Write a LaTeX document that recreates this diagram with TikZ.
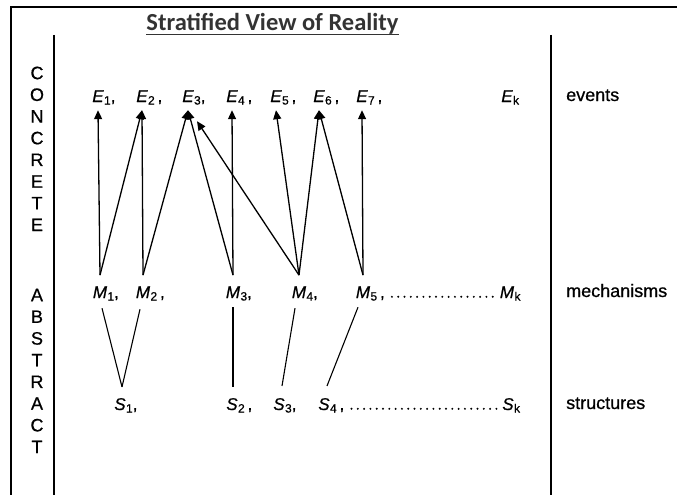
\documentclass[tikz,border=0pt]{standalone}
\usepackage{fontspec}
\setmainfont{Liberation Sans}
\newfontfamily\titlefont{Carlito}
\newfontfamily\lblfont[FakeBold=0.7]{Liberation Sans}
\usetikzlibrary{arrows.meta}
\newcommand\subnum[1]{\raisebox{-2.5pt}{\fontsize{12}{12}\selectfont #1}}
\tikzset{
  lt/.style={font=\lblfont\fontsize{17}{17}\selectfont\itshape, inner sep=0pt, anchor=base},
  lts/.style={font=\lblfont\fontsize{17}{17}\selectfont, inner sep=0pt, anchor=base west},
  side/.style={font=\lblfont\fontsize{18}{18}\selectfont, inner sep=0pt, anchor=base west},
  vlet/.style={font=\lblfont\fontsize{18}{18}\selectfont, inner sep=0pt},
  arr/.style={line width=1.3pt, -{Triangle[length=9pt,width=8pt]}},
  ln/.style={line width=1.1pt},
  dotrow/.style={line width=2.2pt, line cap=round, dash pattern=on 0pt off 6.3pt},
  frameline/.style={line width=2pt},
  divider/.style={line width=1.2pt},
}
\begin{document}
\begin{tikzpicture}[x=1pt,y=-1pt]
\useasboundingbox (0,0) rectangle (677,495);
% frame and dividers
\draw[frameline] (11,495) -- (11,7) -- (677,7);
\draw[divider] (54,35) -- (54,495);
\draw[divider] (551,35) -- (551,495);
% title
\node[font=\titlefont\bfseries\fontsize{24.5}{24.5}\selectfont, text=black!80, inner sep=0pt, anchor=base] (title) at (272.5,31) {Stratified View of Reality};
\draw[line width=1.5pt, black!80] ([yshift=-3.5pt]title.base west) -- ([yshift=-3.5pt]title.base east);
% side letters
\foreach \l [count=\i from 0] in {C,O,N,C,R,E,T,E}
  \node[vlet] (c\i) at (37,{73+21.7*\i}) {\l};
\foreach \l [count=\i from 0] in {A,B,S,T,R,A,C,T}
  \node[vlet] (a\i) at (37,{295+21.7*\i}) {\l};
% events
\node[lt] (e1) at (98,102) {E};  \node[lts] (e1s) at (e1.base east) {\subnum{1},};
\node[lt] (e2) at (142,102) {E}; \node[lts] (e2s) at (e2.base east) {\subnum{2}\,,};
\node[lt] (e3) at (188,102) {E}; \node[lts] (e3s) at (e3.base east) {\subnum{3},};
\node[lt] (e4) at (232,102) {E}; \node[lts] (e4s) at (e4.base east) {\subnum{4}\,,};
\node[lt] (e5) at (276,102) {E}; \node[lts] (e5s) at (e5.base east) {\subnum{5}\,,};
\node[lt] (e6) at (319,102) {E}; \node[lts] (e6s) at (e6.base east) {\subnum{6}\,,};
\node[lt] (e7) at (362,102) {E}; \node[lts] (e7s) at (e7.base east) {\subnum{7}\,,};
\node[lt] (ek) at (507,102) {E}; \node[lts] (eks) at (ek.base east) {\subnum{k}};
% mechanisms
\node[lt] (m1) at (100,298) {M}; \node[lts] (m1s) at (m1.base east) {\subnum{1},};
\node[lt] (m2) at (143,298) {M}; \node[lts] (m2s) at (m2.base east) {\subnum{2}\,,};
\node[lt] (m3) at (233,298) {M}; \node[lts] (m3s) at (m3.base east) {\subnum{3},};
\node[lt] (m4) at (299,298) {M}; \node[lts] (m4s) at (m4.base east) {\subnum{4},};
\node[lt] (m5) at (363,298) {M}; \node[lts] (m5s) at (m5.base east) {\subnum{5}\,,};
\node[lt] (mk) at (507,298) {M}; \node[lts] (mks) at (mk.base east) {\subnum{k}};
% structures
\node[lt] (s1) at (120,410) {S}; \node[lts] (s1s) at (s1.base east) {\subnum{1},};
\node[lt] (s2) at (232,410) {S}; \node[lts] (s2s) at (s2.base east) {\subnum{2}\,,};
\node[lt] (s3) at (279,410) {S}; \node[lts] (s3s) at (s3.base east) {\subnum{3},};
\node[lt] (s4) at (324,410) {S}; \node[lts] (s4s) at (s4.base east) {\subnum{4}\,,};
\node[lt] (sk) at (508,410) {S}; \node[lts] (sks) at (sk.base east) {\subnum{k}};
% dotted runs
\draw[dotrow] ([xshift=7pt,yshift=1.2pt]m5s.base east) -- ([xshift=-3pt,yshift=1.2pt]mk.base west);
\draw[dotrow] ([xshift=7pt,yshift=1.2pt]s4s.base east) -- ([xshift=-3pt,yshift=1.2pt]sk.base west);
% side labels
\node[side] (ev) at (566,101) {events};
\node[side] (me) at (566,297) {mechanisms};
\node[side] (st) at (566,409) {structures};
% arrows mechanisms -> events
\draw[arr] ([yshift=11pt]m1.north) -- ([yshift=-8pt]e1.south);
\draw[arr] ([yshift=11pt]m1.north) -- ([yshift=-8pt]e2.south);
\draw[arr] ([yshift=11pt]m2.north) -- ([yshift=-8pt]e2.south);
\draw[arr] ([yshift=11pt]m2.north) -- ([yshift=-8pt]e3.south);
\draw[arr] ([yshift=11pt]m3.north) -- ([yshift=-8pt]e3.south);
\draw[arr] ([yshift=11pt]m3.north) -- ([yshift=-8pt]e4.south);
\draw[arr] ([yshift=11pt]m4.north) -- ([xshift=9pt,yshift=-19pt]e3.south);
\draw[arr] ([yshift=11pt]m4.north) -- ([yshift=-8pt]e5.south);
\draw[arr] ([yshift=11pt]m4.north) -- ([yshift=-8pt]e6.south);
\draw[arr] ([yshift=11pt]m5.north) -- ([yshift=-8pt]e6.south);
\draw[arr] ([yshift=11pt]m5.north) -- ([yshift=-8pt]e7.south);
% lines mechanisms -- structures
\draw[ln] ([xshift=2pt,yshift=-10pt]m1.south) -- ([xshift=2pt,yshift=11pt]s1.north);
\draw[ln] ([xshift=-3pt,yshift=-11pt]m2.south) -- ([xshift=2pt,yshift=11pt]s1.north);
\draw[ln] ([yshift=-9pt]m3.south) -- ([xshift=1pt,yshift=11pt]s2.north);
\draw[ln] ([xshift=-4pt,yshift=-10pt]m4.south) -- ([xshift=3pt,yshift=12pt]s3.north);
\draw[ln] ([xshift=-5pt,yshift=-9pt]m5.south) -- ([xshift=3pt,yshift=12pt]s4.north);
\end{tikzpicture}
\end{document}
